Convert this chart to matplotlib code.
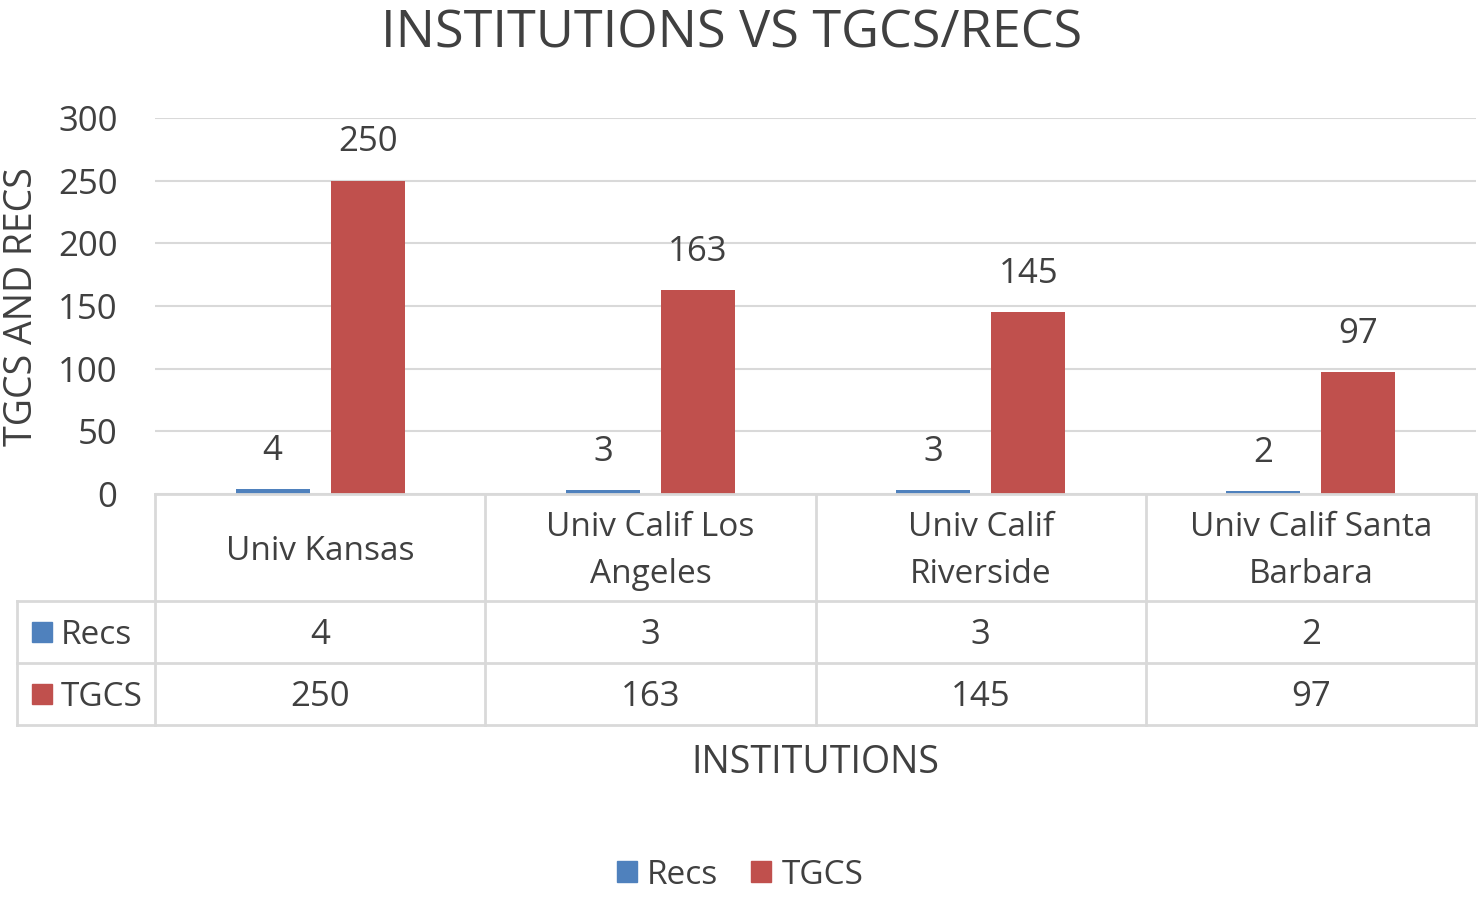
import matplotlib.pyplot as plt
import numpy as np
from matplotlib.patches import Patch, Rectangle
from matplotlib.lines import Line2D

institutions = ['Univ Kansas', 'Univ Calif Los\nAngeles', 'Univ Calif\nRiverside', 'Univ Calif Santa\nBarbara']
recs = [4, 3, 3, 2]
tgcs = [250, 163, 145, 97]
series_names = ['Recs', 'TGCS']
blue = '#4F81BD'
red = '#C0504D'
grid_col = '#D9D9D9'
text_col = '#404040'

plt.rcParams['font.family'] = ['Open Sans', 'DejaVu Sans']

W, H = 1478, 898
fig = plt.figure(figsize=(W / 100, H / 100), dpi=100)

def fx(px):
    return px / W

def fy(py):
    return 1 - py / H

# plot area in pixels
left, right, top, bottom = 155, 1476, 118, 494
ax = fig.add_axes([fx(left), fy(bottom), fx(right) - fx(left), fy(top) - fy(bottom)])

x = np.arange(len(institutions))
bw = 0.224
off = 0.144
b1 = ax.bar(x - off, recs, bw, color=blue, zorder=3)
b2 = ax.bar(x + off, tgcs, bw, color=red, zorder=3)

for bars, vals in [(b1, recs), (b2, tgcs)]:
    for b, v in zip(bars, vals):
        ax.annotate(str(v), (b.get_x() + b.get_width() / 2, v), xytext=(0, 27.5),
                    textcoords='offset points', ha='center', va='center',
                    fontsize=25, color=text_col)

ax.set_xlim(-0.5, len(institutions) - 0.5)
ax.set_ylim(0, 300)
ax.set_yticks(range(0, 301, 50))
ax.yaxis.grid(True, color=grid_col, lw=1.5, zorder=0)
ax.set_xticks([])
for s in ax.spines.values():
    s.set_visible(False)
ax.tick_params(axis='y', length=0, pad=27, labelsize=25, labelcolor=text_col)
fig.text(fx(22), fy(307), 'TGCS AND RECS', rotation=90, ha='center', va='center',
         fontsize=27, color=text_col)

# data table under the axis
cell_w = (right - left) / len(institutions)
row_lines = [494, 601, 663, 725]
tbl_left = 17
lkw = dict(color=grid_col, lw=2, zorder=1)
fig.add_artist(Line2D([fx(left), fx(right)], [fy(494), fy(494)], **lkw))
for yy in row_lines[1:]:
    fig.add_artist(Line2D([fx(tbl_left), fx(right)], [fy(yy), fy(yy)], **lkw))
for i in range(len(institutions) + 1):
    xx = left + i * cell_w
    fig.add_artist(Line2D([fx(xx), fx(xx)], [fy(494), fy(725)], **lkw))
fig.add_artist(Line2D([fx(tbl_left), fx(tbl_left)], [fy(601), fy(725)], **lkw))

for i, name in enumerate(institutions):
    cx = left + (i + 0.5) * cell_w
    fig.text(fx(cx), fy(551), name, ha='center', va='center', fontsize=24,
             color=text_col, linespacing=1.58)
    fig.text(fx(cx), fy(635), str(recs[i]), ha='center', va='center', fontsize=25, color=text_col)
    fig.text(fx(cx), fy(697), str(tgcs[i]), ha='center', va='center', fontsize=25, color=text_col)

for yy, name, col in [(632, series_names[0], blue), (694, series_names[1], red)]:
    fig.add_artist(Rectangle((fx(32), fy(yy + 10)), fx(20), fy(yy - 10) - fy(yy + 10), color=col,
                             transform=fig.transFigure))
    fig.text(fx(61), fy(yy + 3), name, ha='left', va='center', fontsize=24, color=text_col)

fig.text(fx(815), fy(763), 'INSTITUTIONS', ha='center', va='center', fontsize=27, color=text_col)
fig.text(fx(732), fy(34), 'INSTITUTIONS VS TGCS/RECS', ha='center', va='center', fontsize=37.5,
         color=text_col)

handles = [Patch(color=blue, label=series_names[0]), Patch(color=red, label=series_names[1])]
fig.legend(handles=handles, loc='center', bbox_to_anchor=(fx(740), fy(875)), ncol=2,
           frameon=False, fontsize=24, handlelength=0.6, handleheight=0.6,
           handletextpad=0.3, columnspacing=1.0, labelcolor=text_col)

fig.savefig('out.png', dpi=100)
